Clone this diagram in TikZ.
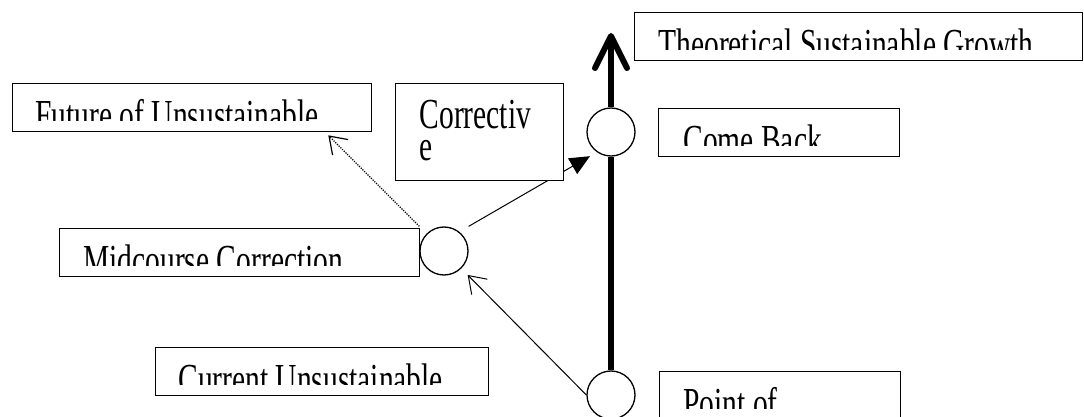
\documentclass[tikz,border=0pt]{standalone}
\usepackage{fontspec}
\usepackage{graphicx}
\setmainfont{Liberation Serif}
\usetikzlibrary{arrows.meta}

% text box whose text is cut off above the lower edge
% name, x, y, width, text indent, text
\newcommand{\cutbox}[6]{%
  \node[txtbox,minimum width=#4,minimum height=24pt] (#1) at (#2,#3) {};
  \begin{scope}
    \clip (#1.north west) rectangle ([yshift=6pt]#1.south east);
    \node[boxtext] (#1txt) at ([xshift=#5,yshift=1.5pt]#1.south west) {\scalebox{1}[1.45]{#6}};
  \end{scope}}

\begin{document}
\begin{tikzpicture}[x=0.5pt,y=-0.5pt,
  txtbox/.style={draw,fill=white,line width=0.65pt,anchor=north west,inner sep=0pt},
  boxtext/.style={anchor=base west,inner sep=0pt,font=\fontsize{14.75pt}{15pt}\selectfont},
  ring/.style={draw,circle,fill=white,line width=0.65pt,minimum size=24pt,inner sep=0pt},
  spine/.style={line width=3pt},
  link/.style={line width=0.5pt}]
\path[use as bounding box,fill=white] (0,0) rectangle (1084,417);

% the three points on the growth line
\node[ring] (cb) at (611,132) {};
\node[ring] (mc) at (444,251) {};
\node[ring] (pt) at (611,395) {};

\cutbox{fut}{12}{83}{179.5pt}{11.5pt}{Future of Unsustainable}
\coordinate (futtip) at ([xshift=-22pt,yshift=-1.5pt]fut.south east);
\coordinate (top) at (611,33);

% growth line
\draw[spine] (pt) -- (cb);
\draw[spine,-{Straight Barb[length=16pt,width=16pt,round]}] (cb) -- (top);

% links round the midcourse point
\draw[link,-{Straight Barb[length=8pt,width=11pt]},shorten >=4.5pt] (pt.west) -- (mc);
\draw[link,-{Triangle[length=10pt,width=9pt]},shorten >=4pt] (mc.north -| mc.east) -- (cb.235);
\draw[link,line width=0.6pt,dash pattern=on 0.6pt off 0.6pt,-{Straight Barb[length=8pt,width=11pt]}] (mc.north -| mc.west) -- (futtip);

% text boxes
\cutbox{mid}{59}{228}{180pt}{12pt}{Midcourse Correction}
\node[txtbox,inner xsep=12pt,inner ysep=0pt,text width=60pt,align=left,text height=22.5pt,text depth=26pt,
  font=\fontsize{14.75pt}{16pt}\selectfont] (corr) at (395,83)
  {\scalebox{1}[1.45]{Correctiv}\\\scalebox{1}[1.45]{e}};
\cutbox{theo}{634}{12}{224pt}{12pt}{Theoretical Sustainable Growth}
\cutbox{come}{658}{108}{120.5pt}{12.5pt}{Come Back}
\cutbox{cur}{155}{347}{166.5pt}{11.5pt}{Current Unsustainable}
\cutbox{point}{659}{371}{120.5pt}{12pt}{Point of}
\end{tikzpicture}
\end{document}
